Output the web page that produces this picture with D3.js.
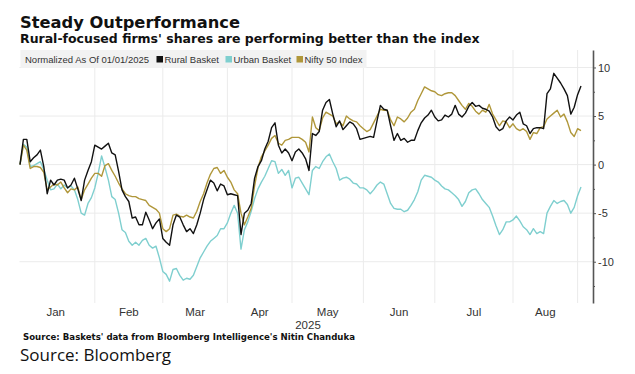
<!DOCTYPE html>
<html>
<head>
  <meta charset="utf-8">
  <title>Steady Outperformance</title>
  <style>
    body { margin: 0; background: #fff; }
    svg { display: block; font-family: "Liberation Sans", Arial, sans-serif; }
    .grid line { stroke: #ebebeb; stroke-width: 1; }
    .serie { fill: none; stroke-width: 1.4; stroke-linejoin: round; }
    .eje path, .eje line { stroke: #555; }
    .eje text { fill: #333; font-size: 11px; font-family: "Liberation Sans", Arial, sans-serif; }
    .negrita { font-family: "DejaVu Sans", Verdana, sans-serif; font-weight: bold; fill: #111; }
  </style>
</head>
<body>
  <svg width="635" height="374"></svg>

  <script src="https://d3js.org/d3.v7.min.js"></script>
  <script>
    // Datos: una cifra por día hábil desde el 1 de enero de 2025 (normalizado a 0)
    const rural = [0.0, 2.6, 2.6, 0.3, 0.7, 1.0, 1.5, -0.2, -3.0, -1.6,
      -2.1, -1.6, -1.5, -1.6, -2.4, -2.1, -1.4, -2.5, -3.7, -1.6,
      -0.6, 0.3, 2.0, 1.8, 1.6, 1.9, 2.2, 1.2, 1.0, -0.7,
      -2.6, -3.3, -3.8, -5.5, -5.4, -6.2, -6.2, -4.9, -5.7, -6.6,
      -6.0, -5.6, -7.6, -8.0, -8.3, -6.2, -5.2, -5.4, -6.2, -6.9,
      -6.6, -7.1, -6.2, -5.0, -3.6, -2.6, -1.6, -1.9, -2.7, -2.0,
      -2.2, -3.1, -3.0, -3.1, -3.2, -7.2, -5.0, -4.7, -4.0, -1.4,
      -0.2, 0.4, 1.6, 2.4, 3.8, 4.3, 2.0, 1.2, 1.6, 1.2,
      0.4, 1.3, 1.6, 1.2, 0.6, -0.6, 3.2, 3.0, 3.4, 5.6,
      6.4, 6.7, 5.2, 3.9, 4.5, 3.6, 4.0, 4.4, 4.2, 3.7,
      2.6, 2.7, 2.8, 2.9, 2.8, 4.5, 6.1, 5.7, 5.6, 4.0,
      2.5, 3.2, 2.5, 2.7, 2.3, 2.5, 2.5, 3.5, 4.3, 4.8,
      5.1, 5.6, 4.9, 4.5, 4.6, 5.1, 4.9, 5.2, 6.1, 5.2,
      4.9, 5.3, 6.0, 6.4, 6.0, 6.1, 5.8, 5.7, 5.5, 4.9,
      3.9, 3.5, 3.7, 4.5, 4.9, 4.6, 5.1, 5.4, 4.2, 4.0,
      3.2, 3.7, 3.8, 3.8, 3.7, 7.3, 7.8, 9.4, 8.9, 8.4,
      7.8, 7.1, 5.2, 5.9, 7.2, 8.1];

    const urban = [0.0, 2.1, 1.8, -0.2, -0.1, 0.1, 0.3, -0.5, -1.6, -2.6,
      -2.5, -2.0, -2.5, -2.1, -2.4, -2.2, -2.6, -3.6, -5.0, -5.2,
      -4.0, -3.4, -2.4, -0.9, 0.9, -0.3, -1.6, -3.3, -3.6, -5.0,
      -6.7, -7.0, -7.9, -8.3, -8.0, -8.3, -7.8, -7.6, -8.3, -8.6,
      -8.4, -9.6, -11.0, -11.3, -12.0, -10.8, -10.7, -11.4, -11.9, -11.7,
      -11.8, -11.4, -10.5, -9.6, -9.0, -8.4, -7.9, -7.6, -7.3, -6.6,
      -6.6, -6.0, -5.0, -4.2, -5.0, -8.7, -6.7, -5.9, -4.8, -3.5,
      -2.5, -1.8, -1.2, -0.4, 0.4, 0.3, -0.9, -0.5, -1.1, -0.6,
      -2.4, -1.4, -1.3, -1.9, -2.5, -3.1, -0.6, -0.2, -0.4, 0.3,
      0.8, 1.1, 0.3, -0.4, -1.6, -1.4, -1.3, -1.5, -1.9, -2.0,
      -2.4, -2.4, -2.6, -3.0, -2.6, -2.1, -1.8, -2.0, -3.0, -4.0,
      -4.5, -4.6, -4.6, -4.85, -4.7, -4.2, -3.6, -2.8, -1.6, -1.1,
      -1.2, -1.3, -1.6, -1.8, -2.2, -2.5, -2.6, -2.9, -3.2, -3.6,
      -4.3, -3.8, -2.9, -2.6, -2.5, -3.0, -3.6, -4.0, -4.4, -5.3,
      -6.3, -7.2, -6.7, -5.9, -5.9, -5.7, -5.3, -5.8, -6.4, -6.7,
      -7.2, -6.6, -7.1, -6.9, -7.1, -5.0, -4.3, -3.7, -4.0, -3.8,
      -3.7, -4.1, -5.0, -4.4, -3.2, -2.3];

    const nifty = [0.0, 2.0, 1.5, -0.4, -0.2, -0.2, -0.3, -0.8, -2.6, -2.3,
      -2.0, -2.1, -1.8, -2.4, -2.9, -2.5, -2.6, -2.3, -3.6, -2.6,
      -2.0, -1.4, -0.9, -0.9, -1.2, -0.1, 0.1, -0.6, -1.2, -1.9,
      -2.5, -3.0, -3.2, -3.3, -3.3, -3.5, -3.6, -3.7, -4.2, -4.4,
      -4.6, -5.0, -6.6, -6.9, -6.6, -5.2, -5.1, -5.3, -5.4, -5.2,
      -5.4, -5.5, -4.8, -3.8, -3.0, -1.9, -1.0, -0.4, -0.3, -0.9,
      -0.6, -1.3, -1.8, -2.6, -3.0, -5.0, -6.2, -5.4, -4.5, -2.2,
      -0.3, 0.8, 1.4, 2.0, 2.7, 3.0, 2.2, 2.0, 2.5, 2.6,
      2.8, 2.8, 2.8, 2.6, 2.3, 1.3, 4.9, 3.8, 3.5, 4.8,
      5.4, 5.2, 5.0, 4.2, 4.4, 4.0, 5.0, 4.7, 4.5, 4.4,
      4.0, 3.7, 3.4, 3.6, 4.3, 5.0, 5.7, 5.6, 5.6, 4.6,
      4.0, 4.9, 4.7, 4.4, 4.8, 5.4, 5.7, 6.6, 7.3, 8.0,
      7.8, 7.6, 7.5, 7.2, 7.1, 7.3, 7.4, 7.4, 7.1, 6.6,
      6.1, 5.7, 6.3, 6.0, 5.5, 5.2, 5.6, 5.4, 6.2, 5.2,
      4.6, 4.0, 4.5, 4.4, 3.8, 4.2, 3.7, 3.5, 3.7, 3.4,
      2.6, 3.3, 3.2, 3.8, 3.9, 4.7, 5.0, 5.3, 5.6, 4.9,
      5.2, 4.4, 3.3, 2.9, 3.7, 3.5];

    // Inicio de cada mes (índice de día hábil) y etiquetas
    const monthStarts = [-1, 22, 42, 61, 80, 101, 122, 145, 164];
    const monthLabels = ["Jan", "Feb", "Mar", "Apr", "May", "Jun", "Jul", "Aug"];
    const yTicks = [-10, -5, 0, 5, 10];
    const yMinorTicks = [-12.5, -7.5, -2.5, 2.5, 7.5];

    const series = [
      { name: "Urban Basket", values: urban, color: "#7fcfcf" },
      { name: "Nifty 50 Index", values: nifty, color: "#b0973a" },
      { name: "Rural Basket", values: rural, color: "#111111" }
    ];
    const legendOrder = ["Rural Basket", "Urban Basket", "Nifty 50 Index"];

    const svg = d3.select("svg");

    const plotLeft = 19.5, plotRight = 593, plotTop = 50, plotBottom = 303;

    const x = d3.scaleLinear().domain([0, 165]).range([20, 581]);
    const y = d3.scaleLinear().domain([-14.25, 11.8]).range([plotBottom, plotTop]);

    // Rejilla
    const grid = svg.append("g").attr("class", "grid");
    grid.selectAll(".h")
      .data(yTicks)
      .enter()
      .append("line")
      .attr("x1", plotLeft).attr("x2", plotRight)
      .attr("y1", d => y(d)).attr("y2", d => y(d));
    grid.selectAll(".v")
      .data(monthStarts.slice(1))
      .enter()
      .append("line")
      .attr("x1", d => x(d)).attr("x2", d => x(d))
      .attr("y1", plotTop).attr("y2", plotBottom);

    // Líneas
    const line = d3.line()
      .x((d, i) => x(i))
      .y(d => y(d));

    svg.selectAll(".serie")
      .data(series)
      .enter()
      .append("path")
      .attr("class", "serie")
      .attr("stroke", d => d.color)
      .attr("d", d => line(d.values));

    // Eje derecho
    svg.append("g")
      .attr("class", "eje")
      .attr("transform", `translate(${plotRight},0)`)
      .call(d3.axisRight(y).tickValues(yMinorTicks).tickSize(2).tickSizeOuter(0).tickFormat(""))
      .call(g => g.select(".domain").remove());

    svg.append("g")
      .attr("class", "eje")
      .attr("transform", `translate(${plotRight},0)`)
      .call(d3.axisRight(y).tickValues(yTicks).tickSize(3).tickSizeOuter(0).tickPadding(2).tickFormat(d => String(d)))
      .call(g => g.select(".domain").attr("stroke-width", 1.6));

    // Etiquetas de meses
    svg.selectAll(".mes")
      .data(monthLabels)
      .enter()
      .append("text")
      .attr("class", "mes")
      .attr("x", (d, i) => x((monthStarts[i] + monthStarts[i + 1]) / 2))
      .attr("y", 316)
      .attr("text-anchor", "middle")
      .attr("font-size", 11.5)
      .attr("fill", "#333")
      .text(d => d);

    svg.append("text")
      .attr("x", 308).attr("y", 328.5)
      .attr("text-anchor", "middle")
      .attr("font-size", 11.5)
      .attr("fill", "#333")
      .text("2025");

    // Leyenda
    svg.append("rect")
      .attr("x", 20.5).attr("y", 50)
      .attr("width", 346).attr("height", 18)
      .attr("fill", "#f2f2f2");

    svg.append("text")
      .attr("x", 25).attr("y", 63)
      .attr("font-size", 9.5)
      .attr("fill", "#333")
      .text("Normalized As Of 01/01/2025");

    const legendX = [156.5, 225.5, 296.5];
    const leg = svg.selectAll(".leg")
      .data(legendOrder)
      .enter()
      .append("g")
      .attr("transform", (d, i) => `translate(${legendX[i]},0)`);
    leg.append("rect")
      .attr("y", 56).attr("width", 6.5).attr("height", 6.5)
      .attr("fill", d => series.find(s => s.name === d).color);
    leg.append("text")
      .attr("x", 8).attr("y", 63)
      .attr("font-size", 9.5)
      .attr("fill", "#333")
      .text(d => d);

    // Títulos
    svg.append("text")
      .attr("class", "negrita")
      .attr("x", 20).attr("y", 27.5)
      .attr("font-size", 16.3)
      .text("Steady Outperformance");

    svg.append("text")
      .attr("class", "negrita")
      .attr("x", 20).attr("y", 42.5)
      .attr("font-size", 12.5)
      .text("Rural-focused firms' shares are performing better than the index");

    // Fuentes
    svg.append("text")
      .attr("class", "negrita")
      .attr("x", 23).attr("y", 340)
      .attr("font-size", 8.6)
      .text("Source: Baskets' data from Bloomberg Intelligence's Nitin Chanduka");

    svg.append("text")
      .attr("x", 20).attr("y", 361)
      .attr("font-size", 17)
      .attr("font-family", "'Open Sans', sans-serif")
      .attr("fill", "#111")
      .text("Source: Bloomberg");
  </script>
</body>
</html>
